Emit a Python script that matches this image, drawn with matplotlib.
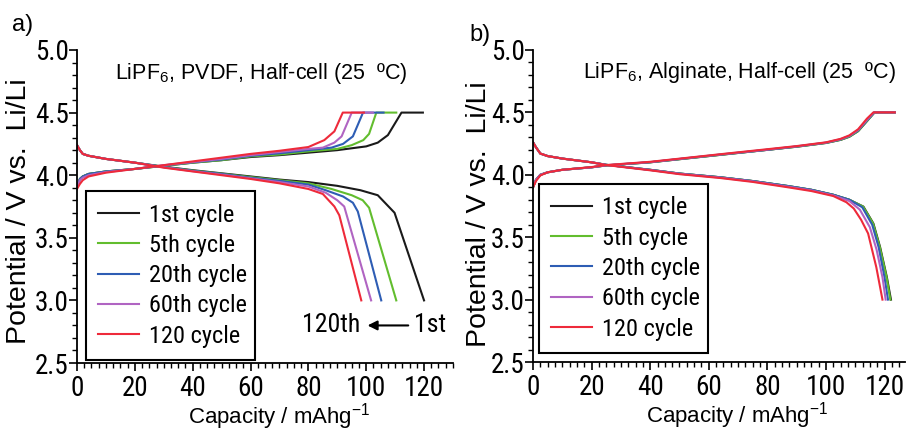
import matplotlib
matplotlib.use("Agg")
import matplotlib.pyplot as plt
from matplotlib import font_manager
from matplotlib.font_manager import FontProperties

# look for a narrow sans face for ticks / legend (reference uses a condensed font)
narrow_file = None
prefs = ['Liberation Sans Narrow', 'Arial Narrow', 'Roboto Condensed', 'DejaVu Sans', 'Open Sans Condensed', 'Noto Sans']
found = {}
for f in font_manager.fontManager.ttflist:
    cond = ('Narrow' in f.name or 'Condensed' in f.name or
            f.stretch in ('condensed', 'semi-condensed', 'extra-condensed', 500, 400))
    if isinstance(f.stretch, int):
        cond = cond and f.stretch < 500 or 'Narrow' in f.name or 'Condensed' in f.name
    w = f.weight if isinstance(f.weight, int) else {'normal': 400, 'regular': 400, 'book': 400}.get(f.weight, 0)
    if cond and w == 400 and f.style == 'normal' and f.stretch != 'normal':
        found.setdefault(f.name, f.fname)
for p in prefs:
    if p in found:
        narrow_file = found[p]
        break
if narrow_file is None and found:
    narrow_file = list(found.values())[0]


def nfont(size):
    if narrow_file:
        return FontProperties(fname=narrow_file, size=size)
    return FontProperties(family='Liberation Sans', size=size * 0.88)


plt.rcParams['font.family'] = ['Liberation Sans', 'DejaVu Sans']
plt.rcParams['mathtext.fontset'] = 'custom'
plt.rcParams['mathtext.rm'] = 'Liberation Sans'

labels = ['1st cycle', '5th cycle', '20th cycle', '60th cycle', '120 cycle']
colors = ['#1a1a1a', '#62bd2e', '#2e5db4', '#b064c2', '#ee2a3a']

# ---- panel a: LiPF6 / PVDF ----
a_chg_x = [
    [0, 1, 2, 4, 10, 20, 30, 40, 50, 60, 70, 80, 90, 100, 104, 107.5, 112.2, 119.6],
    [0, 1, 2, 4, 10, 20, 30, 40, 50, 60, 70, 80, 90, 95, 99, 101, 103.5, 110.4],
    [0, 1, 2, 4, 10, 20, 30, 40, 50, 60, 70, 80, 88, 92, 95.4, 98.9, 106],
    [0, 1, 2, 4, 10, 20, 30, 40, 50, 60, 70, 80, 85, 89, 91.5, 95, 102.3],
    [0, 1, 2, 4, 10, 20, 30, 40, 50, 60, 70, 80, 85.5, 89, 91.9, 99.2],
]
a_chg_y = [
    [3.90, 3.97, 3.99, 4.01, 4.03, 4.05, 4.075, 4.10, 4.12, 4.145, 4.16, 4.18, 4.20, 4.23, 4.26, 4.32, 4.50, 4.50],
    [3.90, 3.97, 3.99, 4.01, 4.03, 4.05, 4.075, 4.10, 4.12, 4.15, 4.165, 4.19, 4.21, 4.24, 4.28, 4.33, 4.50, 4.50],
    [3.90, 3.97, 3.99, 4.01, 4.03, 4.05, 4.078, 4.103, 4.125, 4.155, 4.175, 4.20, 4.22, 4.25, 4.31, 4.50, 4.50],
    [3.90, 3.96, 3.98, 4.00, 4.025, 4.05, 4.08, 4.105, 4.13, 4.16, 4.185, 4.21, 4.22, 4.26, 4.31, 4.50, 4.50],
    [3.89, 3.93, 3.96, 3.99, 4.02, 4.05, 4.08, 4.11, 4.14, 4.17, 4.195, 4.225, 4.28, 4.35, 4.50, 4.50],
]
a_dis_x = [
    [0, 1, 2, 4, 10, 20, 30, 40, 50, 60, 70, 80, 90, 98, 104, 109.8, 120],
    [0, 1, 2, 4, 10, 20, 30, 40, 50, 60, 70, 80, 88, 95, 98.8, 101, 110.4],
    [0, 1, 2, 4, 10, 20, 30, 40, 50, 60, 70, 80, 86, 92, 95.4, 97.1, 105.2],
    [0, 1, 2, 4, 10, 20, 30, 40, 50, 60, 70, 80, 86, 90, 92.4, 101.7],
    [0, 1, 2, 4, 10, 20, 30, 40, 50, 60, 70, 80, 85, 89, 90.7, 98.3],
]
a_dis_y = [
    [4.24, 4.20, 4.17, 4.155, 4.13, 4.10, 4.068, 4.04, 4.015, 3.99, 3.965, 3.945, 3.915, 3.88, 3.84, 3.70, 3.00],
    [4.24, 4.20, 4.17, 4.155, 4.13, 4.10, 4.066, 4.037, 4.012, 3.985, 3.96, 3.935, 3.89, 3.84, 3.80, 3.74, 3.00],
    [4.24, 4.20, 4.17, 4.155, 4.13, 4.10, 4.065, 4.035, 4.01, 3.98, 3.955, 3.925, 3.88, 3.83, 3.78, 3.71, 3.00],
    [4.24, 4.20, 4.17, 4.155, 4.13, 4.10, 4.063, 4.032, 4.005, 3.975, 3.945, 3.91, 3.86, 3.80, 3.75, 3.00],
    [4.24, 4.20, 4.17, 4.155, 4.13, 4.10, 4.06, 4.03, 4.00, 3.97, 3.935, 3.89, 3.85, 3.75, 3.68, 3.00],
]

# ---- panel b: LiPF6 / Alginate ----
b_chg_x = [
    [0, 1, 2.5, 5, 10, 20, 25, 40, 64, 80, 90, 100, 105, 108, 111, 114, 116.6, 123.5],
    [0, 1, 2.5, 5, 10, 20, 25, 40, 64, 80, 90, 100, 105, 108, 111, 114, 116.6, 123.5],
    [0, 1, 2.5, 5, 10, 20, 25, 40, 64, 80, 90, 100, 105, 108, 111, 114, 116.5, 123.5],
    [0, 1, 2.5, 5, 10, 20, 25, 40, 64, 80, 90, 100, 105, 108, 111, 114, 116.4, 123.5],
    [0, 1, 2.5, 5, 10, 20, 25, 40, 64, 80, 90, 100, 105, 108, 111, 114, 116.2, 123.5],
]
b_chg_y = [
    [3.90, 3.96, 4.00, 4.02, 4.04, 4.06, 4.075, 4.10, 4.16, 4.20, 4.225, 4.255, 4.28, 4.305, 4.35, 4.43, 4.50, 4.50],
    [3.90, 3.96, 4.00, 4.02, 4.04, 4.06, 4.075, 4.10, 4.16, 4.20, 4.225, 4.255, 4.28, 4.305, 4.35, 4.43, 4.50, 4.50],
    [3.90, 3.96, 4.00, 4.02, 4.04, 4.06, 4.076, 4.101, 4.162, 4.20, 4.227, 4.257, 4.283, 4.31, 4.355, 4.435, 4.50, 4.50],
    [3.90, 3.96, 4.00, 4.02, 4.04, 4.06, 4.077, 4.102, 4.163, 4.202, 4.228, 4.258, 4.285, 4.312, 4.36, 4.44, 4.50, 4.50],
    [3.90, 3.95, 3.995, 4.02, 4.04, 4.062, 4.078, 4.104, 4.165, 4.205, 4.23, 4.26, 4.288, 4.316, 4.365, 4.45, 4.50, 4.50],
]
b_dis_x = [
    [0, 1, 2.5, 5, 10, 20, 25, 40, 50, 64, 75, 87, 95, 102.5, 108, 112.8, 116.2, 118.5, 120.8, 122.2],
    [0, 1, 2.5, 5, 10, 20, 25, 40, 50, 64, 75, 87, 95, 102.5, 108, 112.7, 116.1, 118.4, 120.7, 122.0],
    [0, 1, 2.5, 5, 10, 20, 25, 40, 50, 64, 75, 87, 95, 102.5, 108, 112.4, 115.8, 118.0, 120.0, 121.2],
    [0, 1, 2.5, 5, 10, 20, 25, 40, 50, 64, 75, 87, 95, 102.5, 108, 111.6, 115.0, 117.3, 119.3, 120.4],
    [0, 1, 2.5, 5, 10, 20, 25, 40, 50, 64, 75, 87, 95, 102.5, 107, 109.5, 112, 114.4, 117.2, 119.3],
]
b_dis_y = [
    [4.26, 4.22, 4.17, 4.15, 4.13, 4.10, 4.08, 4.04, 4.01, 3.98, 3.95, 3.91, 3.88, 3.84, 3.80, 3.745, 3.61, 3.42, 3.18, 3.00],
    [4.26, 4.22, 4.17, 4.15, 4.13, 4.10, 4.08, 4.04, 4.01, 3.98, 3.95, 3.91, 3.88, 3.84, 3.80, 3.745, 3.61, 3.42, 3.18, 3.00],
    [4.26, 4.22, 4.17, 4.15, 4.13, 4.10, 4.08, 4.04, 4.01, 3.98, 3.95, 3.91, 3.88, 3.84, 3.80, 3.74, 3.60, 3.42, 3.18, 3.00],
    [4.26, 4.22, 4.17, 4.15, 4.13, 4.10, 4.079, 4.038, 4.008, 3.977, 3.947, 3.905, 3.875, 3.835, 3.79, 3.72, 3.58, 3.40, 3.18, 3.00],
    [4.26, 4.22, 4.17, 4.15, 4.13, 4.10, 4.078, 4.036, 4.005, 3.974, 3.943, 3.90, 3.87, 3.83, 3.78, 3.73, 3.64, 3.53, 3.26, 3.00],
]

fig = plt.figure(figsize=(9.07, 4.32), dpi=100)
ax_a = fig.add_axes([0.0849, 0.1597, 0.4145, 0.7246])
ax_b = fig.add_axes([0.5877, 0.162, 0.4101, 0.7223])


def style_axes(ax, xmax):
    ax.set_xlim(0, xmax)
    ax.set_ylim(2.5, 5.0)
    ax.set_xticks([0, 20, 40, 60, 80, 100, 120])
    ax.set_xticks([v * 2.5 for v in range(int(xmax / 2.5) + 1)], minor=True)
    ax.set_yticks([2.5, 3.0, 3.5, 4.0, 4.5, 5.0])
    ax.set_yticks([2.5 + 0.1 * i for i in range(26)], minor=True)
    ax.set_yticklabels(['2.5', '3.0', '3.5', '4.0', '4.5', '5.0'])
    for s in ['top', 'right']:
        ax.spines[s].set_visible(False)
    for s in ['left', 'bottom']:
        ax.spines[s].set_linewidth(1.3)
    ax.tick_params(which='major', length=6, width=1.2, direction='out')
    ax.tick_params(which='minor', length=3.5, width=1.0, direction='out')
    ax.tick_params(axis='y', which='major', pad=0)
    ax.tick_params(axis='x', which='major', pad=2.5)
    for lab in ax.get_xticklabels() + ax.get_yticklabels():
        lab.set_fontproperties(nfont(19.5))
    ax.set_ylabel('Potential / V vs.  Li/Li', fontsize=20.5)
    ax.set_xlabel('Capacity / mAhg$^{\\mathregular{-1}}$', fontsize=16)


def draw(ax, cx, cy, dx, dy):
    for i in range(5):
        ax.plot(cx[i], cy[i], color=colors[i], lw=1.5)
        ax.plot(dx[i], dy[i], color=colors[i], lw=1.5, label=labels[i])


draw(ax_a, a_chg_x, a_chg_y, a_dis_x, a_dis_y)
draw(ax_b, b_chg_x, b_chg_y, b_dis_x, b_dis_y)
style_axes(ax_a, 130)
style_axes(ax_b, 127)

ax_a.yaxis.set_label_coords(-0.12, 0.484)
ax_b.yaxis.set_label_coords(-0.11, 0.474)
ax_a.xaxis.set_label_coords(0.537, -0.121)
ax_b.xaxis.set_label_coords(0.55, -0.122)

ax_a.text(0.489, 0.926, r'LiPF$\mathregular{_6}$, PVDF, Half-cell (25  ºC)',
          transform=ax_a.transAxes, ha='center', va='center', fontsize=15.5)
ax_b.text(0.554, 0.928, r'LiPF$\mathregular{_6}$, Alginate, Half-cell (25  ºC)',
          transform=ax_b.transAxes, ha='center', va='center', fontsize=15.5)

for ax, box in [(ax_a, (0.024, 0.01, 0.449, 0.527)), (ax_b, (0.016, 0.03, 0.454, 0.528))]:
    leg = ax.legend(loc='lower left', bbox_to_anchor=box, mode='expand', borderaxespad=0,
                    fancybox=False, edgecolor='black', framealpha=1, handlelength=1.7,
                    handletextpad=0.4, labelspacing=0.3, borderpad=0.5,
                    prop=nfont(17.5))
    leg.get_frame().set_linewidth(1.5)

ax_a.annotate('', xy=(99.5, 2.80), xytext=(115.5, 2.80),
              arrowprops=dict(arrowstyle='-|>', color='black', lw=1.5, mutation_scale=14))
ax_a.text(88, 2.80, '120th', ha='center', va='center', fontproperties=nfont(18.5))
ax_a.text(122, 2.80, '1st', ha='center', va='center', fontproperties=nfont(18.5))

fig.text(0.025, 0.942, 'a)', fontsize=17, ha='center', va='center')
fig.text(0.529, 0.919, 'b)', fontsize=17, ha='center', va='center')

fig.savefig('out.png', dpi=100)
